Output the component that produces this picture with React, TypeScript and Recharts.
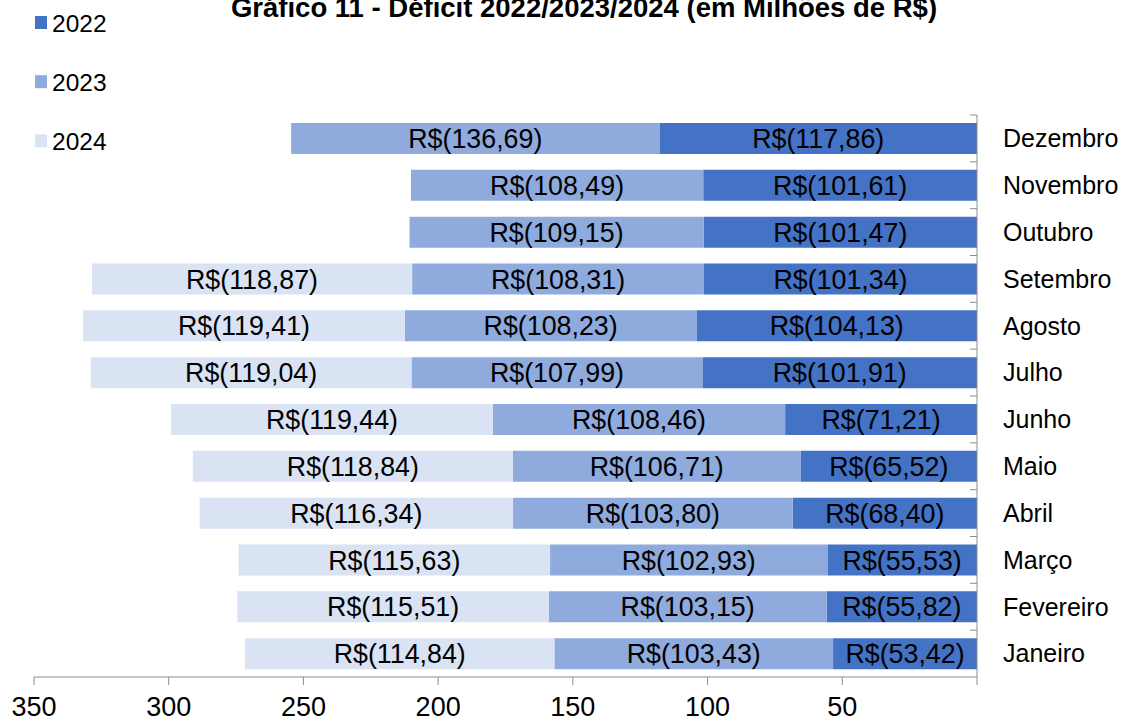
import React from 'react';
import { BarChart, Bar, XAxis, YAxis, LabelList, Legend } from 'recharts';

const months = ['Janeiro', 'Fevereiro', 'Março', 'Abril', 'Maio', 'Junho', 'Julho', 'Agosto', 'Setembro', 'Outubro', 'Novembro', 'Dezembro'];
const deficit2022 = [53.42, 55.82, 55.53, 68.40, 65.52, 71.21, 101.91, 104.13, 101.34, 101.47, 101.61, 117.86];
const deficit2023 = [103.43, 103.15, 102.93, 103.80, 106.71, 108.46, 107.99, 108.23, 108.31, 109.15, 108.49, 136.69];
const deficit2024: (number | null)[] = [114.84, 115.51, 115.63, 116.34, 118.84, 119.44, 119.04, 119.41, 118.87, null, null, null];
const xTicks = [0, 50, 100, 150, 200, 250, 300, 350];
const seriesNames = ['2022', '2023', '2024'];
const title = 'Gráfico 11 - Déficit 2022/2023/2024 (em Milhões de R$)';

const data = months.map((m, i) => ({
  month: m,
  y2022: deficit2022[i],
  y2023: deficit2023[i],
  y2024: deficit2024[i],
}));

const FONT = '"Liberation Sans", Arial, sans-serif';
const AXIS_COLOR = '#8c8c8c';

const fmt = (v: any) => (v == null ? '' : `R$(${Number(v).toFixed(2).replace('.', ',')})`);

const CategoryTick = (props: any) => {
  const { x, y, payload, height } = props;
  const band = (height || 562) / months.length;
  const axisX = x - 26;
  return (
    <g>
      <line x1={axisX - 7} x2={axisX} y1={y - band / 2} y2={y - band / 2} stroke={AXIS_COLOR} strokeWidth={1} />
      <text x={x} y={y} dy="0.35em" textAnchor="start" fontSize={25} fontFamily={FONT} fill="#000">
        {payload.value}
      </text>
    </g>
  );
};

const LegendContent = (props: any) => {
  const payload = props.payload || [];
  return (
    <svg width={200} height={160} style={{ display: 'block' }}>
      {payload.map((p: any, i: number) => (
        <g key={i}>
          <rect x={35} y={16 + i * 59.2} width={12} height={13} fill={p.color} />
          <text x={52} y={31.7 + i * 59.2} fontSize={24.5} fontFamily={FONT} fill="#000">
            {p.value}
          </text>
        </g>
      ))}
    </svg>
  );
};

export default function App() {
  return (
    <div style={{ position: 'relative', width: 1129, height: 722, background: '#fff' }}>
      <style>{'body{margin:0}'}</style>
      <BarChart
        width={1129}
        height={722}
        data={data}
        layout="vertical"
        margin={{ top: 115, right: 0, bottom: 0, left: 34 }}
      >
        <XAxis
          type="number"
          domain={[0, 350]}
          ticks={xTicks}
          reversed
          height={45}
          tickSize={8}
          tickMargin={12}
          interval={0}
          tickFormatter={(v: number) => (v === 0 ? '' : String(v))}
          stroke={AXIS_COLOR}
          tick={{ fill: '#000', fontSize: 27, fontFamily: FONT }}
          axisLine={{ stroke: AXIS_COLOR }}
          tickLine={{ stroke: AXIS_COLOR }}
        />
        <YAxis
          type="category"
          dataKey="month"
          orientation="right"
          reversed
          width={152}
          tickSize={0}
          tickMargin={26}
          tickLine={false}
          interval={0}
          axisLine={{ stroke: AXIS_COLOR }}
          tick={<CategoryTick />}
        />
        <Legend
          layout="horizontal"
          verticalAlign="middle"
          align="center"
          wrapperStyle={{ position: 'absolute', left: 0, top: 0, width: 200, height: 160 }}
          content={<LegendContent />}
        />
        <Bar dataKey="y2022" name={seriesNames[0]} stackId="a" fill="#4472C4" barSize={31} isAnimationActive={false}>
          <LabelList dataKey="y2022" position="center" formatter={fmt} fill="#000" fontSize={26.8} fontFamily={FONT} />
        </Bar>
        <Bar dataKey="y2023" name={seriesNames[1]} stackId="a" fill="#8FAADC" barSize={31} isAnimationActive={false}>
          <LabelList dataKey="y2023" position="center" formatter={fmt} fill="#000" fontSize={26.8} fontFamily={FONT} />
        </Bar>
        <Bar dataKey="y2024" name={seriesNames[2]} stackId="a" fill="#DAE3F3" barSize={31} isAnimationActive={false}>
          <LabelList dataKey="y2024" position="center" formatter={fmt} fill="#000" fontSize={26.8} fontFamily={FONT} />
        </Bar>
      </BarChart>
      <svg width={1129} height={40} style={{ position: 'absolute', left: 0, top: 0, pointerEvents: 'none' }}>
        <text x={584} y={17} textAnchor="middle" fontSize={27.5} fontWeight="bold" fontFamily={FONT} fill="#000">
          {title}
        </text>
      </svg>
    </div>
  );
}
